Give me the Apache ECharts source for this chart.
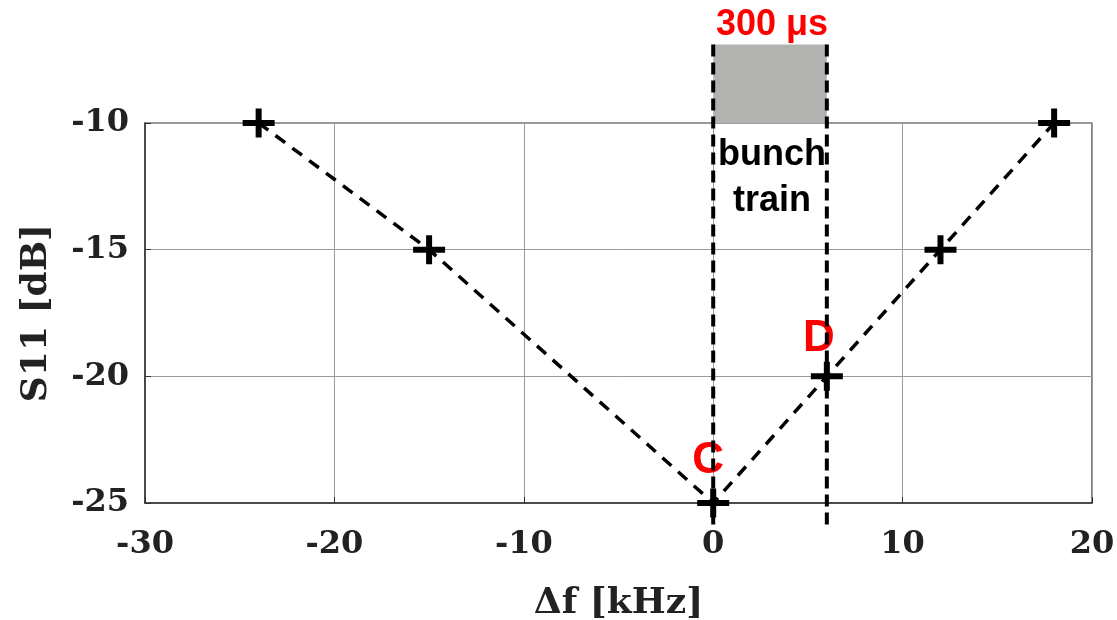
<!DOCTYPE html>
<html>
<head>
<meta charset="utf-8">
<script src="https://cdn.jsdelivr.net/npm/echarts@6/dist/echarts.min.js"></script>
<style>
  html, body { margin: 0; padding: 0; background: #fff; }
  #chart { width: 1117px; height: 620px; }
</style>
</head>
<body>
<div id="chart"></div>
<script>
// Measured reflection vs. detuning
const freqKHz = [-24, -15, 0, 6, 12, 18];
const s11dB = [-10, -15, -25, -20, -15, -10];
const pointTags = ['', '', 'C', 'D', '', ''];

// Axis ranges and tick spacing
const xRange = [-30, 20];
const xStep = 10;
const yRange = [-25, -10];
const yStep = 5;

// Bunch-train window (kHz) and the shaded band drawn above the plot (dB)
const bunchWindowKHz = [0, 6];
const bandDB = [-10, -6.9];
const guideBottomDB = -26;
const windowLabel = '300 μs';
const windowText = 'bunch\ntrain';

const tickFont = 'DejaVu Serif';
// thick plus sign used as the point marker
const plusPath = 'path://M0,11.5 H32 V17.5 H0 Z M13,0 H19 V29 H13 Z';

const chart = echarts.init(document.getElementById('chart'));

const points = freqKHz.map((f, i) => {
  const item = { value: [f, s11dB[i]] };
  if (pointTags[i]) {
    item.label = {
      show: true,
      formatter: pointTags[i],
      position: 'top',
      offset: pointTags[i] === 'C' ? [-5, -1] : [-8, 4]
    };
  }
  return item;
});

chart.setOption({
  animation: false,
  backgroundColor: '#ffffff',
  grid: {
    left: 145, right: 25, top: 123, bottom: 117,
    outerBoundsMode: 'none',
    containLabel: false,
    show: true, borderColor: '#333', borderWidth: 1.2
  },
  xAxis: {
    type: 'value',
    min: xRange[0], max: xRange[1], interval: xStep,
    name: 'Δf [kHz]',
    nameLocation: 'middle',
    nameGap: 83,
    nameTextStyle: { fontFamily: tickFont, fontWeight: 'bold', fontSize: 36, color: '#222' },
    axisLine: { onZero: false, lineStyle: { color: '#333', width: 1.5 } },
    axisTick: { inside: true, length: 6, lineStyle: { color: '#333' } },
    axisLabel: { margin: 26, fontFamily: tickFont, fontWeight: 'bold', fontSize: 32, color: '#222' },
    splitLine: { show: true, lineStyle: { color: '#9a9a9a', width: 1 } }
  },
  yAxis: {
    type: 'value',
    min: yRange[0], max: yRange[1], interval: yStep,
    name: 'S11 [dB]',
    nameLocation: 'middle',
    nameGap: 90,
    nameTextStyle: { fontFamily: tickFont, fontWeight: 'bold', fontSize: 36, color: '#222' },
    axisLine: { onZero: false, lineStyle: { color: '#333', width: 1.5 } },
    axisTick: { inside: true, length: 6, lineStyle: { color: '#333' } },
    axisLabel: { margin: 16, padding: [4, 0, 0, 0], fontFamily: tickFont, fontWeight: 'bold', fontSize: 32, color: '#222' },
    splitLine: { show: true, lineStyle: { color: '#9a9a9a', width: 1 } }
  },
  series: [
    {
      type: 'line',
      data: points,
      symbol: plusPath,
      symbolSize: [32, 29],
      itemStyle: { color: '#000' },
      lineStyle: { color: '#000', width: 3.5, type: [12, 9] },
      label: {
        color: '#ff0000',
        fontFamily: 'Liberation Sans',
        fontWeight: 'bold',
        fontSize: 44
      },
      z: 3
    },
    {
      type: 'custom',
      clip: false,
      data: [bunchWindowKHz],
      z: 4,
      renderItem: function (params, api) {
        const x0 = api.value(0), x1 = api.value(1);
        const tl = api.coord([x0, bandDB[1]]);
        const br = api.coord([x1, bandDB[0]]);
        const b0 = api.coord([x0, guideBottomDB]);
        const b1 = api.coord([x1, guideBottomDB]);
        const dash = { stroke: '#000', lineWidth: 4, lineDash: [12, 6] };
        return {
          type: 'group',
          children: [
            { type: 'rect', shape: { x: tl[0], y: tl[1], width: br[0] - tl[0], height: br[1] - tl[1] },
              style: { fill: '#b2b3b1' } },
            { type: 'line', shape: { x1: tl[0], y1: tl[1], x2: b0[0], y2: b0[1] }, style: dash },
            { type: 'line', shape: { x1: br[0], y1: tl[1], x2: b1[0], y2: b1[1] }, style: dash },
            { type: 'text', x: (tl[0] + br[0]) / 2 + 2, y: tl[1] - 1,
              style: { text: windowLabel, fill: '#ff0000', font: 'bold 36px "Liberation Sans"',
                       textAlign: 'center', textVerticalAlign: 'bottom' } },
            { type: 'text', x: (tl[0] + br[0]) / 2 + 2, y: br[1] + 9,
              style: { text: windowText, fill: '#000', font: 'bold 36px "Liberation Sans"',
                       lineHeight: 46, textAlign: 'center', textVerticalAlign: 'top' } }
          ]
        };
      }
    }
  ]
});
</script>
</body>
</html>
